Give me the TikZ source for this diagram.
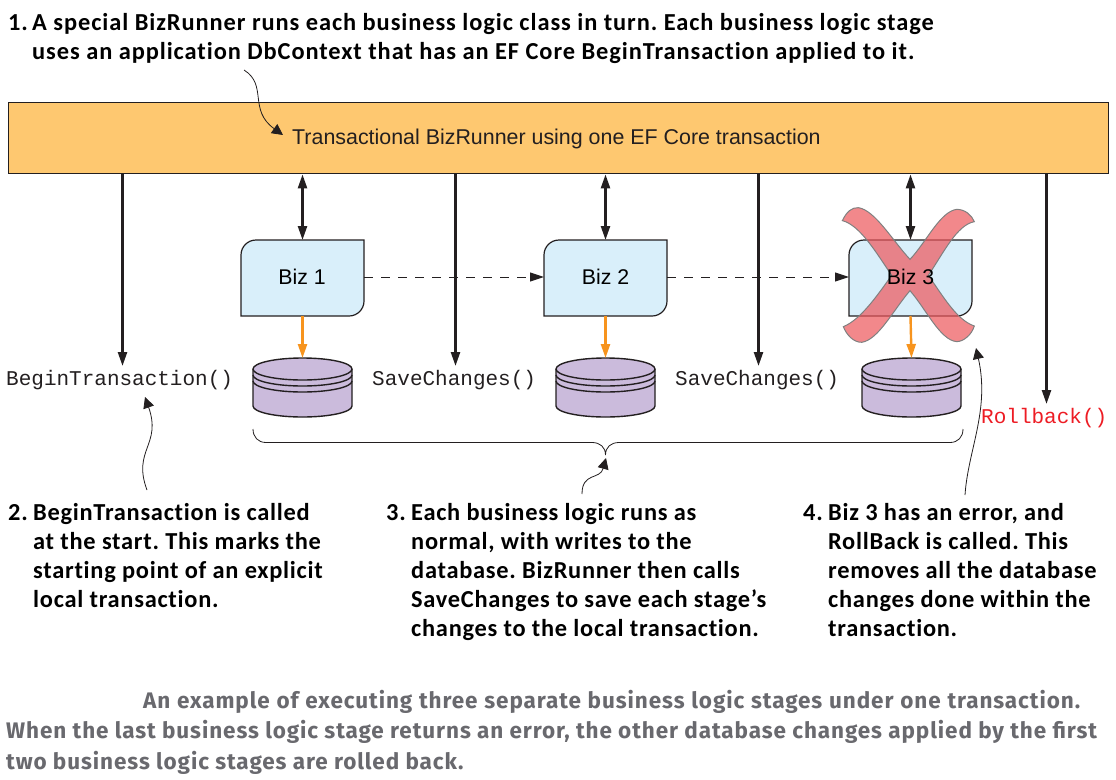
\documentclass[tikz,border=0pt]{standalone}
\usepackage{fontspec}
\setmainfont{Liberation Sans}
\newfontfamily\notefont[LetterSpace=3,Ligatures=NoCommon]{Carlito}
\newfontfamily\leadfont[LetterSpace=3.8,Ligatures=NoCommon]{Carlito}
\newfontfamily\capfont[LetterSpace=4.1]{Fira Sans}
\newfontfamily\codefont{Liberation Mono}
\usetikzlibrary{arrows.meta}
\definecolor{barfill}{RGB}{254,200,112}
\definecolor{bizfill}{RGB}{217,239,250}
\definecolor{dbfill}{RGB}{203,187,220}
\definecolor{inkc}{RGB}{35,31,32}
\definecolor{orangearrow}{RGB}{247,148,30}
\definecolor{crossfill}{RGB}{237,85,90}
\definecolor{capgray}{RGB}{105,105,110}
\definecolor{codered}{RGB}{237,28,36}
\tikzset{
  x=1pt,y=-1pt,
  link/.style={draw=inkc,line width=2.4pt,-{Triangle[length=14pt,width=9pt]}},
  duplex/.style={draw=inkc,line width=2.4pt,{Triangle[length=14pt,width=9pt]}-{Triangle[length=14pt,width=9pt]}},
  dbwrite/.style={draw=orangearrow,line width=2.4pt,-{Triangle[length=14pt,width=9pt]}},
  flow/.style={draw=inkc,line width=1pt,dash pattern=on 9pt off 8pt,-{Triangle[length=14pt,width=9pt,fill=inkc]}},
  callout/.style={draw=inkc,line width=.8pt,-{Triangle[length=11pt,width=11pt]}},
  bracecurve/.style={draw=inkc,line width=.8pt},
  note/.style={inner sep=0pt,anchor=base west,align=left,text=black,font=\frenchspacing\notefont\bfseries\fontsize{24.4}{29}\selectfont},
  lead/.style={inner sep=0pt,anchor=base west,align=left,text=black,font=\frenchspacing\leadfont\bfseries\fontsize{24.4}{29}\selectfont},
  numb/.style={inner sep=0pt,anchor=base west,text=black,font=\notefont\bfseries\fontsize{24.4}{29}\selectfont},
  caption/.style={inner sep=0pt,anchor=base west,align=left,text=capgray,font=\frenchspacing\capfont\bfseries\fontsize{22.5}{30.5}\selectfont},
  code/.style={inner sep=0pt,anchor=base west,text=inkc,font=\codefont\fontsize{21}{24}\selectfont},
  bizlabel/.style={inner sep=0pt,text=black,font=\fontsize{21.3}{24}\selectfont},
  bizline/.style={draw=inkc,line width=1.2pt,fill=bizfill},
  dbline/.style={draw=inkc,line width=1.4pt,fill=dbfill},
}
\newcommand{\bizbox}[2]{% name, left x
  \path[bizline] (#2+15,240) -- (#2+123,240) -- (#2+123,301) arc[start angle=0,end angle=90,x radius=15,y radius=15]
    -- (#2,316) -- (#2,255) arc[start angle=180,end angle=270,x radius=15,y radius=15] -- cycle;
  \coordinate (#1n) at (#2+61.5,240);
  \coordinate (#1s) at (#2+61.5,316);
  \coordinate (#1w) at (#2,277);
  \coordinate (#1e) at (#2+123,277);
}
\newcommand{\dbdisk}[2]{% name, left x
  \path[dbline] (#2,369) -- (#2,406) arc[start angle=180,end angle=0,x radius=49.5,y radius=11]
    -- (#2+99,369) arc[start angle=0,end angle=-180,x radius=49.5,y radius=11] -- cycle;
  \draw[draw=inkc,line width=1.4pt] (#2,369) arc[start angle=180,end angle=0,x radius=49.5,y radius=11];
  \draw[draw=inkc,line width=1.4pt] (#2,375) arc[start angle=180,end angle=0,x radius=49.5,y radius=11];
  \draw[draw=inkc,line width=1.4pt] (#2,381) arc[start angle=180,end angle=0,x radius=49.5,y radius=11];
  \coordinate (#1) at (#2+49.5,358);
}
\begin{document}
\begin{tikzpicture}
\useasboundingbox (0,0) rectangle (1116,779);
% runner bar
\node[draw=inkc,line width=1.4pt,fill=barfill,minimum width=1100pt,minimum height=71pt,anchor=north west,inner sep=0pt] (bar) at (7.5,102) {};
\node[inner sep=0pt,anchor=base west,text=inkc,font=\fontsize{21.4}{24}\selectfont] (title) at (292,144) {Transactional BizRunner using one EF Core transaction};
% stages
\bizbox{bizA}{241}
\bizbox{bizB}{544}
\bizbox{bizC}{849}
\dbdisk{dbA}{253}
\dbdisk{dbB}{556}
\dbdisk{dbC}{862}
% connectors
\coordinate (a1) at (122.5,173); \coordinate (a1e) at (122.5,366);
\coordinate (a2) at (455.5,173); \coordinate (a2e) at (455.5,366);
\coordinate (a3) at (758.5,173); \coordinate (a3e) at (758.5,366);
\coordinate (a4) at (1046.5,173); \coordinate (a4e) at (1046.5,404);
\path[link] (a1) -- (a1e);
\path[link] (a2) -- (a2e);
\path[link] (a3) -- (a3e);
\path[link] (a4) -- (a4e);
\path[duplex] (bizAn |- bar.south) -- (bizAn);
\path[duplex] (bizBn |- bar.south) -- (bizBn);
\path[duplex] (bizCn |- bar.south) -- (bizCn);
\path[dbwrite] (bizAs) -- (dbA);
\path[dbwrite] (bizBs) -- (dbB);
\path[dbwrite] (bizCs) -- (dbC);
\path[flow] (bizAe) -- (bizBw);
\path[flow] (bizBe) -- (bizCw);
% cross
\begin{scope}[shift={(780,170)},x=0.3333pt,y=-0.3333pt]
\path[fill=crossfill,fill opacity=.7,draw=gray,line width=1pt]
 (187,152) .. controls (200,125) and (215,112) .. (235,113)
 .. controls (285,120) and (340,215) .. (390,268)
 .. controls (440,215) and (480,125) .. (530,118)
 .. controls (555,118) and (575,135) .. (583,155)
 .. controls (530,165) and (490,250) .. (445,316)
 .. controls (490,380) and (530,450) .. (583,468)
 .. controls (575,495) and (550,515) .. (530,515)
 .. controls (480,510) and (440,420) .. (390,362)
 .. controls (340,420) and (295,510) .. (245,517)
 .. controls (220,517) and (200,495) .. (190,470)
 .. controls (240,450) and (290,380) .. (335,316)
 .. controls (290,250) and (240,165) .. (187,152) -- cycle;
\end{scope}
\node[bizlabel] (bizA) at (302,277) {Biz 1};
\node[bizlabel] (bizB) at (605.5,277) {Biz 2};
\node[bizlabel] (bizC) at (910.5,277) {Biz 3};
% code labels
\node[code] (begin) at (6,385) {BeginTransaction()};
\node[code] (saveA) at (372,385) {SaveChanges()};
\node[code] (saveB) at (675,385) {SaveChanges()};
\node[code,text=codered] (roll) at (981,423) {Rollback()};
% brace
\coordinate (brL) at (253,429); \coordinate (brR) at (963,429); \coordinate (brM) at (605.5,455);
\path[bracecurve] (brL) .. controls (253,437) and (258,442.5) .. (266,442.5) -- (592,442.5)
  .. controls (600,442.5) and (605.5,447) .. (brM) .. controls (605.5,447) and (611,442.5) .. (619,442.5)
  -- (950,442.5) .. controls (958,442.5) and (963,437) .. (brR);
% notes
\node[numb] (n1) at (8,30.5) {1.};
\node[lead] (t1) at (32,59) {A special BizRunner runs each business logic class in turn. Each business logic stage\\uses an application DbContext that has an EF Core BeginTransaction applied to it.};
\node[numb] (n2) at (8,520) {2.};
\node[note] (t2) at (33,607) {BeginTransaction is called\\at the start. This marks the\\starting point of an explicit\\local transaction.};
\node[numb] (n3) at (386,520) {3.};
\node[note] (t3) at (411,636) {Each business logic runs as\\normal, with writes to the\\database. BizRunner then calls\\SaveChanges to save each stage’s\\changes to the local transaction.};
\node[numb] (n4) at (803,520) {4.};
\node[note] (t4) at (828,636) {Biz 3 has an error, and\\RollBack is called. This\\removes all the database\\changes done within the\\transaction.};
% callouts
\coordinate (c1s) at (244,70); \coordinate (c1e) at (283,135);
\coordinate (c2s) at (147,490); \coordinate (c2e) at (145,397);
\coordinate (c3s) at (582,494); \coordinate (c3e) at (606,458);
\coordinate (c4s) at (965,495); \coordinate (c4e) at (976,348);
\path[callout] (c1s) .. controls (268,85) and (248,110) .. (c1e);
\path[callout] (c2s) .. controls (132,450) and (162,445) .. (c2e);
\path[callout] (c3s) .. controls (582,472) and (600,480) .. (c3e);
\path[callout] (c4s) .. controls (968,450) and (990,410) .. (c4e);
% caption
\node[caption] (cap) at (6,769) {\hspace*{137pt}\hbox to 937pt{An example of executing three separate business logic stages under one transaction.}\\When the last business logic stage returns an error, the other database changes applied by the first\\two business logic stages are rolled back.};
\end{tikzpicture}
\end{document}
